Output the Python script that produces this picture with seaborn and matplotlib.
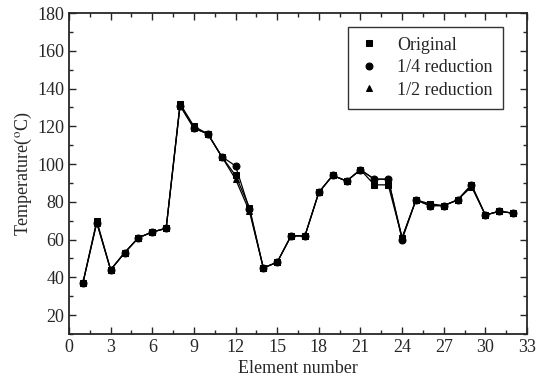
import numpy as np
import pandas as pd
import matplotlib
matplotlib.use("Agg")
import matplotlib.pyplot as plt
from matplotlib.ticker import MultipleLocator
import seaborn as sns

elements = list(range(1, 33))
original = [37, 70, 44, 53, 61, 64, 66, 132, 120, 116, 104, 94, 77, 45, 48, 62,
            62, 85, 94, 91, 97, 89, 89, 61, 81, 79, 78, 81, 89, 73, 75, 74]
quarter = [37, 69, 44, 53, 61, 64, 66, 131, 119, 116, 104, 99, 76, 45, 48, 62,
           62, 85, 94, 91, 97, 92, 92, 60, 81, 78, 78, 81, 89, 73, 75, 74]
half = [37, 69, 44, 53, 61, 64, 66, 131, 119, 116, 104, 92, 75, 45, 48, 62,
        62, 85, 94, 91, 97, 92, 92, 61, 81, 78, 78, 81, 88, 73, 75, 74]
series_names = ["Original", "1/4 reduction", "1/2 reduction"]

df = pd.DataFrame({
    "Element": elements * 3,
    "Temperature": original + quarter + half,
    "Series": [series_names[0]] * 32 + [series_names[1]] * 32 + [series_names[2]] * 32,
})

sns.set_style("ticks")
plt.rcParams["font.family"] = ["Liberation Serif", "DejaVu Serif"]
plt.rcParams["mathtext.fontset"] = "stix"

fig = plt.figure(figsize=(5.46, 3.77), dpi=100)
ax = fig.add_axes([0.1264, 0.114, 0.8388, 0.8515])

sns.lineplot(data=df, x="Element", y="Temperature", hue="Series", style="Series",
             palette=["black"] * 3, markers=["s", "o", "^"], dashes=False,
             markersize=5, linewidth=0.9, markeredgecolor="black", ax=ax)

ax.set_xlim(0, 33)
ax.set_ylim(10, 180)
ax.xaxis.set_major_locator(MultipleLocator(3))
ax.xaxis.set_minor_locator(MultipleLocator(1.5))
ax.yaxis.set_major_locator(MultipleLocator(20))
ax.yaxis.set_minor_locator(MultipleLocator(10))
ax.set_yticks(range(20, 181, 20))
ax.tick_params(which="both", direction="in", top=True, right=True, labelsize=13)
ax.tick_params(which="major", length=5, width=1)
ax.tick_params(which="minor", length=3, width=1)
for s in ax.spines.values():
    s.set_linewidth(1.3)
    s.set_visible(True)

ax.set_xlabel("Element number", fontsize=13, labelpad=3)
ax.set_ylabel("Temperature($^{\\mathrm{o}}$C)", fontsize=13, labelpad=2)

leg = ax.legend(loc="upper right", bbox_to_anchor=(0.967, 0.985), fontsize=13,
                frameon=True, fancybox=False, edgecolor="black",
                handlelength=1.2, handletextpad=1.0, borderpad=0.55,
                labelspacing=0.3)
leg.get_frame().set_linewidth(1.0)
for h in leg.legend_handles:
    h.set_linestyle("none")

fig.savefig("out.png", dpi=100)
